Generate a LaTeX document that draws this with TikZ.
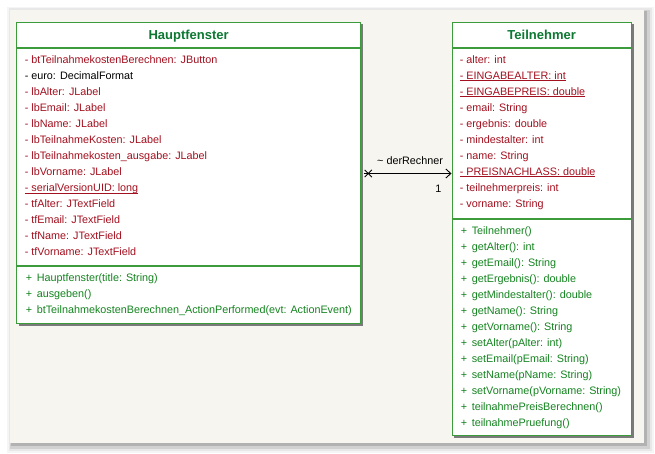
\documentclass[tikz,border=0pt]{standalone}
\usepackage{fontspec}
\setmainfont{Liberation Sans}
\usetikzlibrary{arrows.meta}
\definecolor{panel}{HTML}{F7F5EF}
\definecolor{attrc}{HTML}{A3101F}
\definecolor{methc}{HTML}{14841F}
\definecolor{ttlc}{HTML}{0C7832}
\definecolor{bord}{HTML}{3C9C3C}
\definecolor{shad}{HTML}{7A7A7A}
\newcommand\ulx[1]{\setbox0\hbox{#1}\rlap{\rule[-1.7pt]{\wd0}{0.9pt}}\box0}
\tikzset{
  classbox/.style={draw=bord, line width=1.3pt, fill=white, inner sep=0pt, anchor=north west},
  sepline/.style={draw=bord, line width=1.1pt},
  ttl/.style={font=\fontsize{13}{15}\selectfont\bfseries, text=ttlc, inner sep=0pt, anchor=base},
  attr/.style={font=\fontsize{10.8}{12}\selectfont, text=attrc, inner sep=0pt, anchor=base west},
  meth/.style={font=\fontsize{10.8}{12}\selectfont, text=methc, inner sep=0pt, anchor=base west},
  lbl/.style={font=\fontsize{10.8}{12}\selectfont, text=black, inner sep=0pt, anchor=base west},
  assoc/.style={draw=black, line width=0.9pt},
}
\begin{document}
\begin{tikzpicture}[x=1pt,y=-1pt]
\useasboundingbox (0,0) rectangle (655,454);
\fill[white] (0,0) rectangle (655,454);
% panel with soft shadow
\fill[black!4] (7,7) rectangle (654,453);
\fill[black!9] (8.5,8.5) rectangle (652,451);
\fill[black!18] (10,10) rectangle (649.5,448.5);
\fill[black!30] (11,11) rectangle (647,446);
\fill[panel] (10,10) rectangle (644,443);

% ---------------- Hauptfenster ----------------
\fill[shad] (18.5,24.5) rectangle (363,326);
\node[classbox, minimum width=344pt, minimum height=301pt] (haupt) at (16,22) {};
\draw[sepline] ([yshift=-26pt]haupt.north west) -- ([yshift=-26pt]haupt.north east);
\draw[sepline] ([yshift=-244pt]haupt.north west) -- ([yshift=-244pt]haupt.north east);
\node[ttl] (hauptT) at ([yshift=-17.6pt]haupt.north) {Hauptfenster};
\foreach \t [count=\i from 0] in {
  - btTeilnahmekostenBerechnen: JButton,
  {\color{black}- euro: DecimalFormat},
  - lbAlter: JLabel,
  - lbEmail: JLabel,
  - lbName: JLabel,
  - lbTeilnahmeKosten: JLabel,
  - lbTeilnahmekosten\_ausgabe: JLabel,
  - lbVorname: JLabel,
  {\ulx{- serialVersionUID: long}},
  - tfAlter: JTextField,
  - tfEmail: JTextField,
  - tfName: JTextField,
  - tfVorname: JTextField}
  { \node[attr] (ha\i) at (24.6, 63.8+16*\i) {\t}; }
\foreach \t [count=\i from 0] in {
  Hauptfenster(title: String),
  ausgeben(),
  btTeilnahmekostenBerechnen\_ActionPerformed(evt: ActionEvent)}
  { \node[meth] (hm\i) at (25.6, 281.6+16*\i) {\makebox[11pt][l]{+}\t}; }

% ---------------- Teilnehmer ----------------
\fill[shad] (454,24.5) rectangle (633.5,438);
\node[classbox, minimum width=179pt, minimum height=413pt] (teil) at (451.5,22) {};
\draw[sepline] ([yshift=-26pt]teil.north west) -- ([yshift=-26pt]teil.north east);
\draw[sepline] ([yshift=-197pt]teil.north west) -- ([yshift=-197pt]teil.north east);
\node[ttl] (teilT) at ([yshift=-17.6pt]teil.north) {Teilnehmer};
\foreach \t [count=\i from 0] in {
  - alter: int,
  {\ulx{- EINGABEALTER: int}},
  {\ulx{- EINGABEPREIS: double}},
  - email: String,
  - ergebnis: double,
  - mindestalter: int,
  - name: String,
  {\ulx{- PREISNACHLASS: double}},
  - teilnehmerpreis: int,
  - vorname: String}
  { \node[attr] (ta\i) at (459.6, 63.6+16*\i) {\t}; }
\foreach \t [count=\i from 0] in {
  Teilnehmer(),
  getAlter(): int,
  getEmail(): String,
  getErgebnis(): double,
  getMindestalter(): double,
  getName(): String,
  getVorname(): String,
  setAlter(pAlter: int),
  setEmail(pEmail: String),
  setName(pName: String),
  setVorname(pVorname: String),
  teilnahmePreisBerechnen(),
  teilnahmePruefung()}
  { \node[meth] (tm\i) at (460.6, 234.4+16*\i) {\makebox[11pt][l]{+}\t}; }

% ---------------- association ----------------
\coordinate (aL) at (363.5,173.5);
\coordinate (ax) at (368.3,173.5);
\draw[assoc, -{Straight Barb[length=5pt,width=9pt]}] (aL) -- (aL -| teil.west);
\draw[assoc] ([shift={(-3.6pt,-3.6pt)}]ax) -- ([shift={(3.6pt,3.6pt)}]ax);
\draw[assoc] ([shift={(-3.6pt,3.6pt)}]ax) -- ([shift={(3.6pt,-3.6pt)}]ax);
\node[lbl] (role) at (377,164.5) {\textasciitilde\ derRechner};
\node[lbl, anchor=base east] (mult) at (441.5,192.5) {1};
\end{tikzpicture}
\end{document}
